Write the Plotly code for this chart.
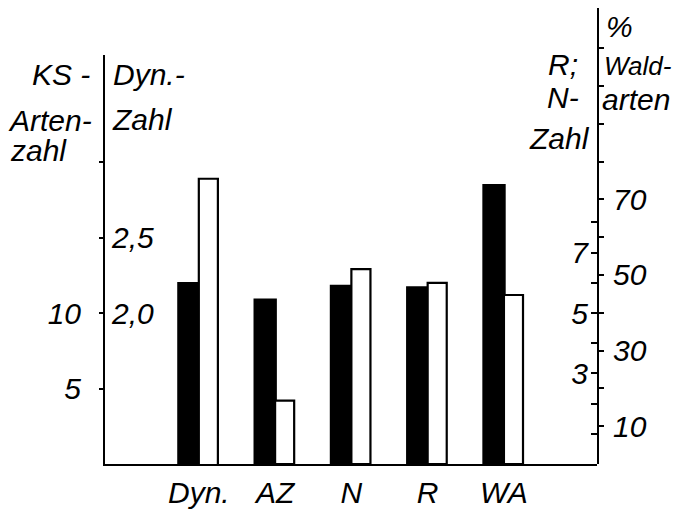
import plotly.graph_objects as go

# ---- data ----
categories = ["Dyn.", "AZ", "N", "R", "WA"]
black_values = [2.2, 10.9, 5.9, 5.85, 73.8]   # dark bars
white_values = [2.89, 4.2, 6.45, 6.0, 44.7]   # open bars
value_axis = ["y2", "y", "y3", "y3", "y4"]     # which scale each pair belongs to

ks_ticks = [5, 10, 15, 20]
ks_labels = ["5", "10", "", ""]
dyn_ticks = [2.0, 2.5]
dyn_labels = ["2,0", "2,5"]
rn_ticks = [1, 2, 3, 4, 5, 6, 7, 8]
rn_labels = ["", "", "3", "", "5", "", "7", ""]
wa_ticks = [10, 20, 30, 40, 50, 60, 70, 80, 90, 100, 110]
wa_labels = ["10", "", "30", "", "50", "", "70", "", "", "", ""]

# ---- layout geometry (page pixels; the page body adds an 8px offset) ----
OFF = 8
W, H = 680 - OFF, 513 - OFF
L, R, T, B = 105 - OFF, 83, 8 - OFF, 49
PW, PH = W - L - R, H - T - B

FONT = "Liberation Sans, Arial, sans-serif"

fig = go.Figure()
for cat, bv, wv, ax in zip(categories, black_values, white_values, value_axis):
    fig.add_trace(go.Bar(x=[cat], y=[bv], yaxis=ax, offset=-0.27, width=0.28,
                         marker=dict(color="black", line=dict(color="black", width=2)),
                         showlegend=False, hoverinfo="skip"))
    fig.add_trace(go.Bar(x=[cat], y=[wv], yaxis=ax, offset=0.0, width=0.25,
                         marker=dict(color="white", line=dict(color="black", width=2.2)),
                         showlegend=False, hoverinfo="skip"))

def px_x(p):
    return (p - OFF - L) / PW

def px_y(p):
    return (H - B - (p - OFF)) / PH

annotations = []
def label(text, x, y, anchor, size=30):
    annotations.append(dict(text=text, x=px_x(x), y=px_y(y), xref="paper", yref="paper",
                            xanchor=anchor, yanchor="middle", showarrow=False,
                            font=dict(family=FONT, size=size, color="black", style="italic")))

label("KS -", 30, 75, "left")
label("Arten-", 6, 120, "left")
label("zahl", 8, 150, "left")
label("Dyn.-", 111, 75, "left")
label("Zahl", 110, 119, "left")
label("R;", 580, 64, "right")
label("N-", 581, 98, "right")
label("Zahl", 592, 138, "right")
label("%", 604, 27, "left")
label("Wald-", 602, 66, "left", 26)
label("arten", 600, 100, "left")

tickfont = dict(family=FONT, size=30, color="black", style="italic")
left_top = (H - B - (55 - OFF)) / PH

fig.update_layout(
    width=W, height=H,
    margin=dict(l=L, r=R, t=T, b=B, pad=0),
    paper_bgcolor="white", plot_bgcolor="rgba(0,0,0,0)",
    barmode="overlay",
    showlegend=False,
    annotations=annotations,
    xaxis=dict(range=[-1.23, 5.22], showline=True, linecolor="black", linewidth=2,
               showgrid=False, zeroline=False, ticks="", fixedrange=True,
               tickfont=dict(family=FONT, size=30, color="black", style="italic"),
               ticklabelstandoff=1),
    yaxis=dict(domain=[0, left_top], range=[0, 27.1], showline=True, linecolor="black",
               linewidth=2, showgrid=False, zeroline=False, ticks="outside", ticklen=4,
               tickwidth=2, tickcolor="black", tickvals=ks_ticks, ticktext=ks_labels,
               tickfont=tickfont, ticklabelstandoff=12),
    yaxis2=dict(overlaying="y", side="left", anchor="x", range=[1, 3.71],
                showline=False, showgrid=False, zeroline=False, ticks="",
                tickvals=dyn_ticks, ticktext=dyn_labels, tickfont=tickfont,
                ticklabelposition="inside", ticklabelstandoff=4),
    yaxis3=dict(domain=[0, 1], anchor="x", side="right", range=[0, 15.1],
                showline=True, linecolor="black", linewidth=2, showgrid=False,
                zeroline=False, ticks="inside", ticklen=6, tickwidth=2, tickcolor="black",
                tickvals=rn_ticks, ticktext=rn_labels, tickfont=tickfont,
                ticklabelposition="inside", ticklabelstandoff=6),
    yaxis4=dict(overlaying="y3", anchor="x", side="right", range=[0, 120.6],
                showline=False, showgrid=False, zeroline=False, ticks="outside",
                ticklen=6, tickwidth=2, tickcolor="black",
                tickvals=wa_ticks, ticktext=wa_labels, tickfont=tickfont,
                ticklabelstandoff=3),
)

fig.write_html("out.html")
